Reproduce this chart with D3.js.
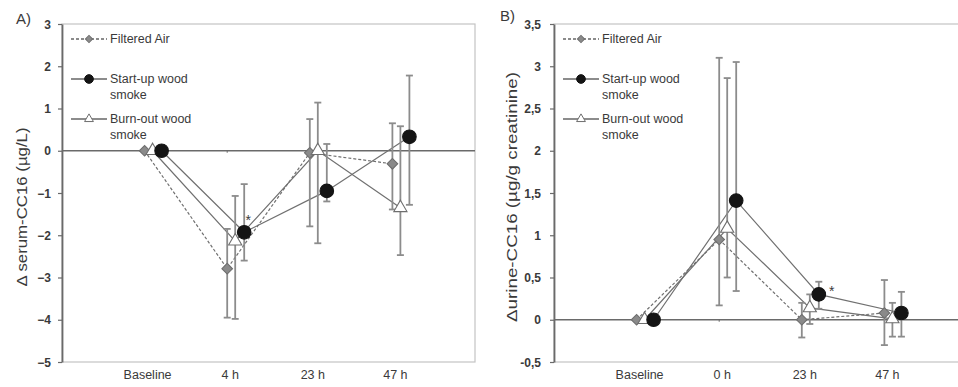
<!DOCTYPE html>
<html>
<head>
<meta charset="utf-8">
<script src="https://cdn.jsdelivr.net/npm/d3@7"></script>
<style>
  body { margin: 0; background: #fff; }
  svg { display: block; font-family: 'Liberation Sans', Arial, sans-serif; }
</style>
</head>
<body>
<svg id="chart" width="958" height="387"></svg>
<script>
// categories / tick labels
const categoriesA = ['Baseline', '4 h', '23 h', '47 h'];
const categoriesB = ['Baseline', '0 h', '23 h', '47 h'];
const ticksA = [3, 2, 1, 0, -1, -2, -3, -4, -5];
const ticksB = [3.5, 3, 2.5, 2, 1.5, 1, 0.5, 0, -0.5];
const seriesNames = ['Filtered Air', 'Start-up wood smoke', 'Burn-out wood smoke'];

// A) serum CC16 (mean, upper and lower error bar ends)
const filteredA = [0, -2.79, -0.05, -0.31];
const filteredAHi = [null, -1.85, 0.75, 0.65];
const filteredALo = [null, -3.95, -1.79, -1.39];
const startupA = [0, -1.93, -0.95, 0.33];
const startupAHi = [null, -0.79, 0.16, 1.78];
const startupALo = [null, -2.6, -1.2, -1.28];
const burnoutA = [0, -2.14, 0.0, -1.35];
const burnoutAHi = [null, -1.07, 1.14, 0.58];
const burnoutALo = [null, -3.98, -2.19, -2.47];

// B) urine CC16
const filteredB = [0, 0.95, 0.0, 0.08];
const filteredBHi = [null, 3.1, 0.2, 0.47];
const filteredBLo = [null, 0.17, -0.21, -0.3];
const startupB = [0, 1.41, 0.30, 0.08];
const startupBHi = [null, 3.05, 0.45, 0.33];
const startupBLo = [null, 0.34, 0.13, -0.2];
const burnoutB = [0, 1.08, 0.14, 0.01];
const burnoutBHi = [null, 2.86, 0.30, 0.2];
const burnoutBLo = [null, 0.5, -0.05, -0.2];

const svg = d3.select('#chart');
const fmtComma = d => String(d).replace('.', ',');

const styles = [
  { shape: 'diamond', dx: 0, dash: '3,2', fill: '#8a8a8a', stroke: '#6e6e6e' },
  { shape: 'circle', dx: 17, dash: null, fill: '#141414', stroke: '#141414' },
  { shape: 'triangle', dx: 8, dash: null, fill: '#fff', stroke: '#6e6e6e' }
];

function symbolPath(shape, big) {
  if (shape === 'circle') return d3.symbol(d3.symbolCircle, big ? 145 : 60)();
  if (shape === 'triangle') return d3.symbol(d3.symbolTriangle, big ? 75 : 34)();
  return d3.symbol(d3.symbolSquare, big ? 56 : 26)();
}

function drawPanel(p) {
  const g = svg.append('g');
  const x = d3.scaleLinear().domain([0, 5]).range([p.left, p.left + 5 * 82.6]);
  const y = d3.scaleLinear().domain(p.domain).range([362, 24]);

  // frame
  g.append('rect')
    .attr('x', p.left).attr('y', 24)
    .attr('width', x(5) - p.left).attr('height', 338)
    .attr('fill', 'none').attr('stroke', '#c4c4c4').attr('stroke-width', 1.2);

  // zero line
  g.append('line')
    .attr('x1', p.left).attr('x2', x(5))
    .attr('y1', y(0)).attr('y2', y(0))
    .attr('stroke', '#6a6a6a').attr('stroke-width', 1.3);
  g.selectAll('.ztick').data(p.categories).join('line')
    .attr('x1', (d, i) => x(i + 1)).attr('x2', (d, i) => x(i + 1))
    .attr('y1', y(0)).attr('y2', y(0) + 2)
    .attr('stroke', '#6a6a6a');

  // y axis
  const yAxis = g.append('g')
    .attr('transform', `translate(${p.left},0)`)
    .call(d3.axisLeft(y).tickValues(p.ticks).tickSize(4).tickSizeOuter(0).tickFormat(p.fmt));
  yAxis.select('.domain').attr('stroke', '#6a6a6a').attr('stroke-width', 1.8);
  yAxis.selectAll('.tick line').attr('stroke', '#6a6a6a').attr('stroke-width', 1.2);
  yAxis.selectAll('.tick text')
    .attr('x', p.tickX).attr('dy', '0.34em')
    .style('font-size', '12px').style('font-weight', 'bold')
    .style('font-family', "'Liberation Sans', Arial, sans-serif")
    .attr('fill', '#3a3a3a');

  // x labels
  g.selectAll('.xlab').data(p.categories).join('text')
    .attr('x', (d, i) => x(i + 1) + 3).attr('y', 379)
    .attr('text-anchor', 'middle')
    .attr('font-size', 12.5).attr('fill', '#3a3a3a')
    .text(d => d);

  // axis title
  g.append('text')
    .attr('transform', `translate(${p.titleX},${p.titleY}) rotate(-90)`)
    .attr('text-anchor', 'middle')
    .attr('font-size', 15.5).attr('fill', '#3a3a3a')
    .attr('textLength', p.titleLen).attr('lengthAdjust', 'spacingAndGlyphs')
    .text(p.title);

  // panel label
  g.append('text').attr('x', p.labelX).attr('y', p.labelY)
    .attr('font-size', 15).attr('fill', '#3a3a3a').text(p.label);

  const drawOrder = [0, 2, 1];

  // lines
  drawOrder.forEach(si => {
    const s = p.series[si], st = styles[si];
    const line = d3.line().x((d, i) => x(i + 1) + st.dx).y(d => y(d));
    g.append('path').datum(s.values)
      .attr('d', line).attr('fill', 'none')
      .attr('stroke', '#707070').attr('stroke-width', 1.2)
      .attr('stroke-dasharray', st.dash);
  });

  // error bars
  drawOrder.forEach(si => {
    const s = p.series[si], st = styles[si];
    const idx = s.hi.map((v, i) => i).filter(i => s.hi[i] !== null);
    const eg = g.append('g').attr('stroke', '#8c8c8c').attr('stroke-width', 1.8);
    idx.forEach(i => {
      const cx = x(i + 1) + st.dx;
      eg.append('line').attr('x1', cx).attr('x2', cx).attr('y1', y(s.hi[i])).attr('y2', y(s.lo[i]));
      [s.hi[i], s.lo[i]].forEach(v => {
        eg.append('line').attr('x1', cx - 3.5).attr('x2', cx + 3.5).attr('y1', y(v)).attr('y2', y(v));
      });
    });
  });

  // markers
  drawOrder.forEach(si => {
    const s = p.series[si], st = styles[si];
    g.selectAll(null).data(s.values).join('path')
      .attr('d', symbolPath(st.shape, true))
      .attr('transform', (d, i) => `translate(${x(i + 1) + st.dx},${y(d)})` + (st.shape === 'diamond' ? ' rotate(45)' : ''))
      .attr('fill', st.fill).attr('stroke', st.stroke).attr('stroke-width', 1.1);
  });

  // significance
  g.append('text').attr('x', x(p.star.i + 1) + p.star.dx).attr('y', y(p.star.v) + 8)
    .attr('text-anchor', 'middle')
    .attr('font-size', 14).attr('fill', '#3a3a3a').text('*');

  // legend
  const lx = p.left + 9;
  const rows = [
    { si: 0, y: 39, lines: ['Filtered Air'] },
    { si: 1, y: 79, lines: ['Start-up wood', 'smoke'] },
    { si: 2, y: 119, lines: ['Burn-out wood', 'smoke'] }
  ];
  rows.forEach(r => {
    const st = styles[r.si];
    g.append('line').attr('x1', lx).attr('x2', lx + 36).attr('y1', r.y).attr('y2', r.y)
      .attr('stroke', '#666').attr('stroke-width', 1.3).attr('stroke-dasharray', st.dash);
    g.append('path').attr('d', symbolPath(st.shape, false))
      .attr('transform', `translate(${lx + 18},${r.y})` + (st.shape === 'diamond' ? ' rotate(45)' : ''))
      .attr('fill', st.fill).attr('stroke', st.stroke);
    const t = g.append('text').attr('x', lx + 39).attr('y', r.y + 4)
      .attr('font-size', 12.5).attr('fill', '#3a3a3a');
    r.lines.forEach((l, k) => t.append('tspan').attr('x', lx + 39).attr('dy', k ? 15.5 : 0).text(l));
  });
}

drawPanel({
  left: 62, domain: [-5, 3], ticks: ticksA, fmt: d3.format('d'), tickX: -11,
  categories: categoriesA, label: 'A)', labelX: 16, labelY: 24,
  title: 'Δ serum-CC16 (µg/L)', titleX: 27, titleY: 207, titleLen: 159,
  star: { i: 1, v: -1.56, dx: 21 },
  series: [
    { name: seriesNames[0], values: filteredA, hi: filteredAHi, lo: filteredALo },
    { name: seriesNames[1], values: startupA, hi: startupAHi, lo: startupALo },
    { name: seriesNames[2], values: burnoutA, hi: burnoutAHi, lo: burnoutALo }
  ]
});

drawPanel({
  left: 554, domain: [-0.5, 3.5], ticks: ticksB, fmt: fmtComma, tickX: -13,
  categories: categoriesB, label: 'B)', labelX: 500, labelY: 21,
  title: 'Δurine-CC16 (µg/g creatinine)', titleX: 517, titleY: 197, titleLen: 250,
  star: { i: 2, v: 0.37, dx: 30 },
  series: [
    { name: seriesNames[0], values: filteredB, hi: filteredBHi, lo: filteredBLo },
    { name: seriesNames[1], values: startupB, hi: startupBHi, lo: startupBLo },
    { name: seriesNames[2], values: burnoutB, hi: burnoutBHi, lo: burnoutBLo }
  ]
});
</script>
</body>
</html>
